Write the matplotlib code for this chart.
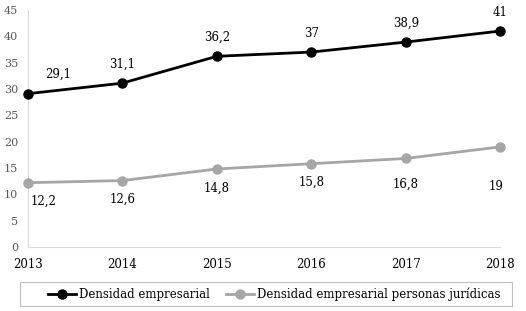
import matplotlib
matplotlib.use("Agg")
import matplotlib.pyplot as plt
from matplotlib.patches import Rectangle

years = [2013, 2014, 2015, 2016, 2017, 2018]
densidad = [29.1, 31.1, 36.2, 37, 38.9, 41]
densidad_pj = [12.2, 12.6, 14.8, 15.8, 16.8, 19]
lab_densidad = ["29,1", "31,1", "36,2", "37", "38,9", "41"]
lab_pj = ["12,2", "12,6", "14,8", "15,8", "16,8", "19"]

plt.rcParams['font.family'] = ['DejaVu Serif']

fig = plt.figure(figsize=(5.26, 3.11), dpi=100)
ax = fig.add_axes([0.053, 0.206, 0.898, 0.762])

ax.plot(years, densidad, color='black', lw=2, marker='o', ms=6.5, clip_on=False,
        label='Densidad empresarial', zorder=3)
ax.plot(years, densidad_pj, color='#a6a6a6', lw=2, marker='o', ms=6.5, clip_on=False,
        label='Densidad empresarial personas jurídicas', zorder=3)

for i, (x, y) in enumerate(zip(years, densidad)):
    dx = 22 if i == 0 else 0
    ax.annotate(lab_densidad[i], (x, y), xytext=(dx, 9), textcoords='offset points',
                ha='center', va='bottom', fontsize=8.5)
pj_dy = [-9, -9, -9, -9, -14, -24]
for i, (x, y) in enumerate(zip(years, densidad_pj)):
    dx = 11 if i == 0 else (-3 if i == len(years) - 1 else 0)
    ax.annotate(lab_pj[i], (x, y), xytext=(dx, pj_dy[i]), textcoords='offset points',
                ha='center', va='top', fontsize=8.5)

ax.set_xlim(2013, 2018)
ax.set_ylim(0, 45)
ax.set_yticks(range(0, 46, 5))
ax.set_xticks(years)
ax.tick_params(axis='y', length=0, labelsize=8, labelcolor='#595959', pad=7)
ax.tick_params(axis='x', length=0, labelsize=8.5, pad=8)
for s in ['top', 'right']:
    ax.spines[s].set_visible(False)
ax.spines['left'].set_color('#d9d9d9')
ax.spines['bottom'].set_color('#d9d9d9')

# legend border drawn separately, wider than the entries
fig.patches.append(Rectangle((20 / 526, 5 / 311), 492 / 526, 24 / 311,
                             transform=fig.transFigure, fill=False,
                             edgecolor='#bfbfbf', lw=0.8))
leg = fig.legend(loc='center', bbox_to_anchor=(274 / 526, 17 / 311),
                 ncol=2, fontsize=8.5, frameon=False, handlelength=2.4,
                 handletextpad=0.2, columnspacing=1.4)

fig.savefig("out.png", dpi=100)
